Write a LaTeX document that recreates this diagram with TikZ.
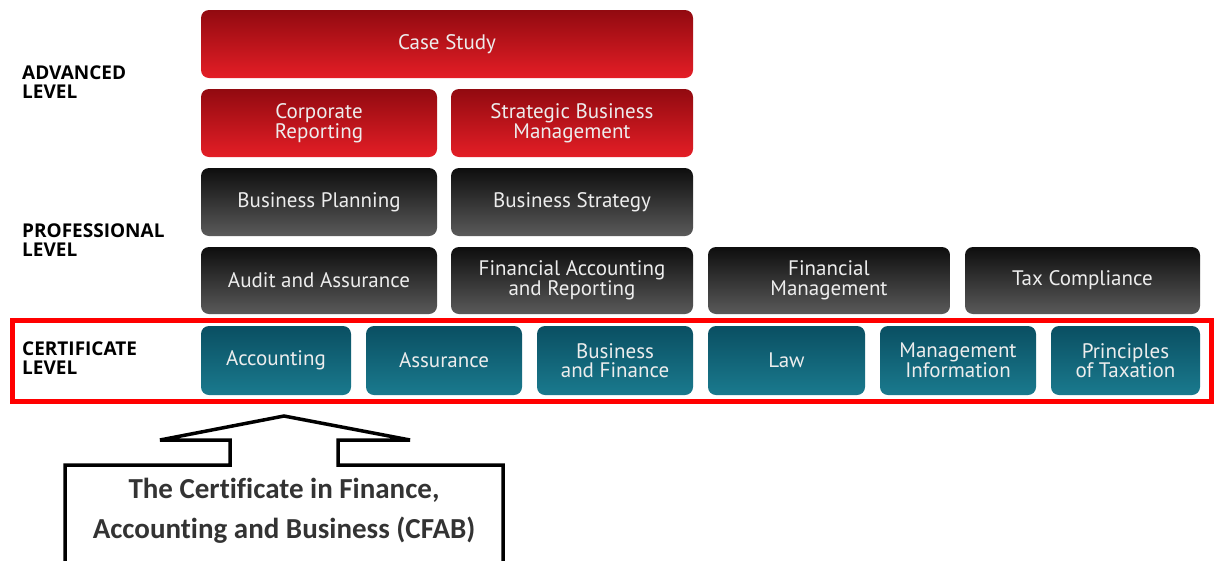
\documentclass[tikz,border=0pt]{standalone}
\usepackage{fontspec}
\setmainfont{PT Sans}
\newfontfamily\calloutfont[Ligatures=NoCommon]{Carlito}
\newfontfamily\levelfont{Open Sans}
\usetikzlibrary{positioning}
\definecolor{advtop}{HTML}{920A10}
\definecolor{advbot}{HTML}{E41E26}
\definecolor{protop}{HTML}{0E0E0E}
\definecolor{probot}{HTML}{5A5A5A}
\definecolor{certtop}{HTML}{0A4F62}
\definecolor{certbot}{HTML}{1A7A8E}
\definecolor{calltext}{HTML}{333333}
\tikzset{
    box/.style={rounded corners=8, minimum height=68, inner sep=0pt,
        align=center, text=white!93!black,
        font=\fontsize{21}{19.5}\selectfont}, % common look of the exam boxes
    adv/.style={box, top color=advtop, bottom color=advbot},
    pro/.style={box, top color=protop, bottom color=probot},
    cert/.style={box, top color=certtop, bottom color=certbot, minimum height=69},
    levellabel/.style={anchor=west, align=left, inner sep=0pt,
        font=\levelfont\bfseries\fontsize{19}{19.5}\selectfont},
}
\begin{document}
\begin{tikzpicture}[x=1pt, y=-1pt]
    \clip (0,0) rectangle (1215,560);
    \useasboundingbox (0,0) rectangle (1215,560);

    % Advanced level
    \node[adv, minimum width=492] (case) at (447,44) {Case Study};
    \node[adv, minimum width=236] (corp) at (319,123) {Corporate\\Reporting};
    \node[adv, minimum width=242] (sbm) at (572,123) {Strategic Business\\Management};

    % Professional level
    \node[pro, minimum width=236] (plan) at (319,202) {Business Planning};
    \node[pro, minimum width=242] (strat) at (572,202) {Business Strategy};
    \node[pro, minimum width=236, minimum height=67] (audit) at (319,280.5) {Audit and Assurance};
    \node[pro, minimum width=242, minimum height=67] (far) at (572,280.5) {Financial Accounting\\and Reporting};
    \node[pro, minimum width=242, minimum height=67] (fm) at (829,280.5) {Financial\\Management};
    \node[pro, minimum width=235, minimum height=67] (tax) at (1082.5,280.5) {Tax Compliance};

    % Certificate level
    \node[cert, minimum width=150] (acc) at (276,360.5) {Accounting};
    \node[cert, minimum width=156] (ass) at (444,360.5) {Assurance};
    \node[cert, minimum width=156] (bf) at (615,360.5) {Business\\and Finance};
    \node[cert, minimum width=157] (law) at (786.5,360.5) {Law};
    \node[cert, minimum width=156] (mi) at (958,360.5) {Management\\Information};
    \node[cert, minimum width=149] (pot) at (1125.5,360.5) {Principles\\of Taxation};

    % Level names
    \node[levellabel] (advlbl) at (22,82) {ADVANCED\\LEVEL};
    \node[levellabel] (prolbl) at (22,240) {PROFESSIONAL\\LEVEL};
    \node[levellabel] (certlbl) at (22,358) {CERTIFICATE\\LEVEL};

    % Highlight of the certificate row
    \draw[red, line width=5] (12,320) rectangle (1211,401);

    % Callout
    \draw[line width=3.5, fill=white, line join=miter]
        (65,580) -- (65,465) -- (230,465) -- (230,440) -- (160,440) -- (284,416)
        -- (410,440) -- (338,440) -- (338,465) -- (503,465) -- (503,580);
    \node[align=center, text=calltext, font=\calloutfont\bfseries\fontsize{29}{40}\selectfont]
        (cfab) at (284,511) {The Certificate in Finance,\\Accounting and Business (CFAB)};
\end{tikzpicture}
\end{document}
